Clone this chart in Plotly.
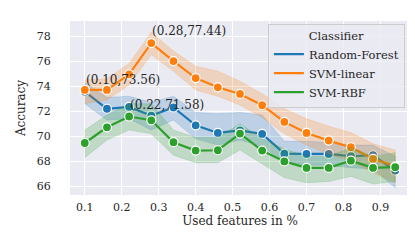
import plotly.graph_objects as go

x_vals = [0.10, 0.16, 0.22, 0.28, 0.34, 0.40, 0.46, 0.52, 0.58, 0.64, 0.70, 0.76, 0.82, 0.88, 0.94]

rf_mean = [73.56, 72.2, 72.35, 71.65, 72.3, 70.88, 70.27, 70.48, 70.19, 68.62, 68.6, 68.6, 68.41, 68.49, 67.27]
rf_low = [72.6, 71.3, 71.4, 70.5, 71.3, 69.8, 69.3, 69.7, 69.2, 67.9, 67.7, 67.7, 67.5, 67.4, 65.9]
rf_high = [74.3, 73.1, 73.2, 72.7, 73.2, 71.9, 71.8, 71.9, 71.7, 69.6, 69.6, 69.5, 69.3, 69.3, 68.4]

lin_mean = [73.7, 73.7, 74.95, 77.44, 76.0, 74.65, 73.91, 73.38, 72.48, 71.15, 70.27, 69.66, 69.13, 68.2, 67.62]
lin_low = [72.6, 72.9, 74.1, 76.5, 75.2, 73.7, 73.2, 72.5, 71.5, 70.2, 69.3, 68.6, 68.0, 67.1, 66.3]
lin_high = [74.5, 74.6, 75.8, 78.3, 76.8, 75.6, 75.2, 74.4, 73.4, 72.2, 71.4, 70.8, 70.3, 69.4, 68.9]

rbf_mean = [69.47, 70.72, 71.58, 71.28, 69.53, 68.86, 68.89, 70.22, 68.86, 68.0, 67.48, 67.48, 68.06, 67.48, 67.54]
rbf_low = [68.3, 69.7, 70.5, 70.2, 68.5, 67.9, 67.9, 68.9, 67.8, 66.7, 66.3, 66.4, 66.8, 66.2, 66.4]
rbf_high = [70.5, 71.7, 72.6, 72.6, 70.5, 69.9, 69.9, 71.0, 69.8, 69.0, 68.4, 68.4, 69.1, 68.4, 68.7]

names = ["Random-Forest", "SVM-linear", "SVM-RBF"]
colors = ["#1f77b4", "#ff7f0e", "#2ca02c"]
band_colors = ["rgba(31,119,180,0.22)", "rgba(255,127,14,0.22)", "rgba(44,160,44,0.22)"]
means = [rf_mean, lin_mean, rbf_mean]
lows = [rf_low, lin_low, rbf_low]
highs = [rf_high, lin_high, rbf_high]

best_labels = ["(0.10,73.56)", "(0.28,77.44)", "(0.22,71.58)"]
best_x = [0.10, 0.28, 0.22]
best_y = [73.56, 77.44, 71.58]

FONT = "DejaVu Serif"
TXT = "#262626"

fig = go.Figure()
for i in range(3):
    fig.add_trace(go.Scatter(x=x_vals + x_vals[::-1], y=highs[i] + lows[i][::-1],
                             fill="toself", fillcolor=band_colors[i],
                             line=dict(width=0.8, color=band_colors[i]), mode="lines",
                             hoverinfo="skip", showlegend=False))
    fig.add_trace(go.Scatter(x=x_vals, y=means[i], mode="lines+markers",
                             line=dict(color=colors[i], width=2.2),
                             marker=dict(size=9, color=colors[i], line=dict(color="white", width=1.2)),
                             showlegend=False, name=names[i]))
for i in range(3):
    fig.add_trace(go.Scatter(x=[None], y=[None], mode="lines", name=names[i],
                             line=dict(color=colors[i], width=2.2)))

for lbl, bx, by in zip(best_labels, best_x, best_y):
    fig.add_annotation(x=bx, y=by, text=lbl, showarrow=False, xanchor="left", yanchor="bottom",
                       xshift=-1, yshift=3, font=dict(family=FONT, size=12, color=TXT))

fig.update_layout(
    width=415, height=244,
    margin=dict(l=59, r=13, t=13, b=57),
    paper_bgcolor="white", plot_bgcolor="#EAEAF2",
    font=dict(family=FONT, size=11, color=TXT),
    legend=dict(title=dict(text="Classifier", side="top center", font=dict(family=FONT, size=11.5)),
                x=0.985, y=0.985, xanchor="right", yanchor="top",
                bgcolor="rgba(234,234,242,0.8)", bordercolor="#CCCCCC", borderwidth=1,
                font=dict(family=FONT, size=11.5), tracegroupgap=0, itemwidth=30),
)
fig.update_xaxes(range=[0.06, 0.98], tickvals=[0.1, 0.2, 0.3, 0.4, 0.5, 0.6, 0.7, 0.8, 0.9],
                 ticktext=["0.1", "0.2", "0.3", "0.4", "0.5", "0.6", "0.7", "0.8", "0.9"],
                 showgrid=True, gridcolor="white", gridwidth=1.2, zeroline=False, showline=False,
                 ticks="outside", ticklen=2, tickcolor="rgba(0,0,0,0)",
                 title=dict(text="Used features in %", standoff=1, font=dict(family=FONT, size=12)),
                 tickfont=dict(family=FONT, size=11))
fig.update_yaxes(range=[65.32, 79.2], tickvals=[66, 68, 70, 72, 74, 76, 78],
                 showgrid=True, gridcolor="white", gridwidth=1.2, zeroline=False, showline=False,
                 ticks="outside", ticklen=16, tickcolor="rgba(0,0,0,0)",
                 title=dict(text="Accuracy", standoff=8, font=dict(family=FONT, size=12)),
                 tickfont=dict(family=FONT, size=11))

fig.write_html("out.html")
